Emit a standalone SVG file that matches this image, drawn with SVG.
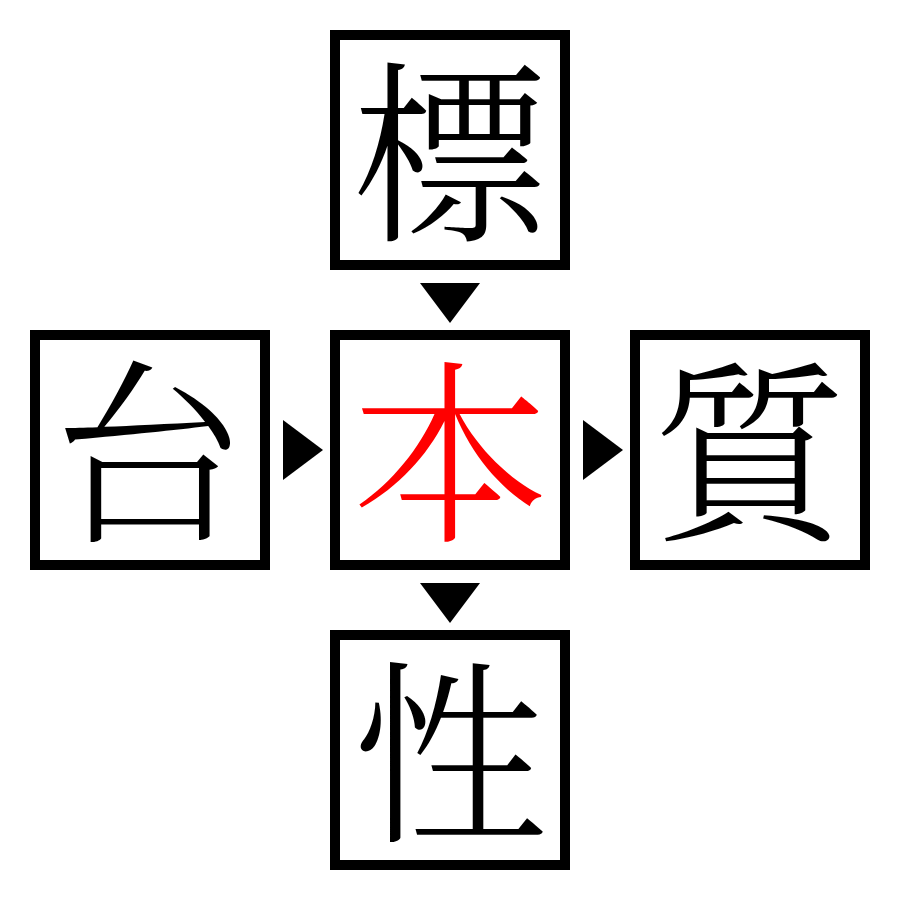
<svg xmlns="http://www.w3.org/2000/svg" width="900" height="900" viewBox="0 0 900 900">
<style>
.box{fill:#fff;stroke:#000;stroke-width:10}
.ch{font-family:"Noto Serif CJK JP","Noto Serif CJK SC","Noto Sans CJK JP",serif;font-size:196px;font-weight:300;text-anchor:middle;fill:#000}
.red{fill:#ff0000}
.arr{fill:#000}
</style>
<rect width="900" height="900" fill="#fff"/>
<g id="connectors">
<polygon class="arr" points="420,283 480,283 450,323"/>
<polygon class="arr" points="283,420 323,450 283,480"/>
<polygon class="arr" points="583,420 623,450 583,480"/>
<polygon class="arr" points="420,583 480,583 450,623"/>
</g>
<g id="node-top"><rect class="box" x="335" y="35" width="230" height="230"/><text class="ch" x="450" y="226">標</text></g>
<g id="node-left"><rect class="box" x="35" y="335" width="230" height="230"/><text class="ch" x="150" y="526">台</text></g>
<g id="node-center"><rect class="box" x="335" y="335" width="230" height="230"/><text class="ch red" x="450" y="526">本</text></g>
<g id="node-right"><rect class="box" x="635" y="335" width="230" height="230"/><text class="ch" x="750" y="526">質</text></g>
<g id="node-bottom"><rect class="box" x="335" y="635" width="230" height="230"/><text class="ch" x="450" y="826">性</text></g>
</svg>
